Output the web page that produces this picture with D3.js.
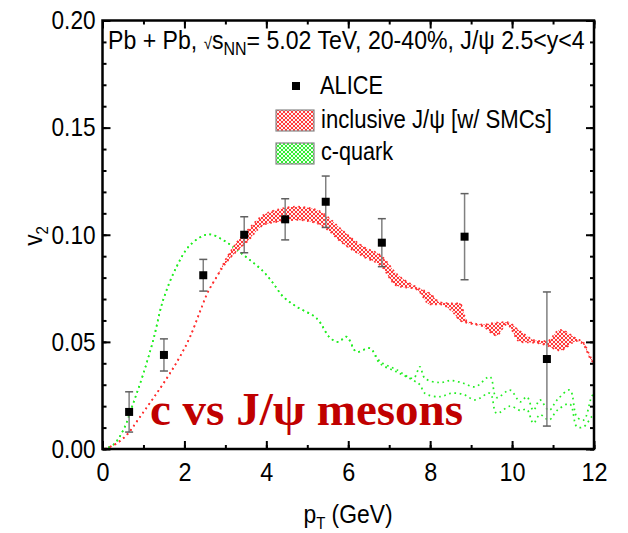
<!DOCTYPE html>
<html>
<head>
<meta charset="utf-8">
<script src="https://cdn.jsdelivr.net/npm/d3@7"></script>
<style>
  html, body { margin: 0; padding: 0; background: #fff; }
  svg { display: block; }
  .lab { font-family: "Liberation Sans", Arial, sans-serif; fill: #000; }
</style>
</head>
<body>
<svg id="chart" width="628" height="533"></svg>
<script>
// ALICE measurement: pT (GeV), v2, symmetric uncertainty
const alicePt  = [0.65, 1.50, 2.46, 3.46, 4.46, 5.45, 6.82, 8.84, 10.85];
const aliceV2  = [0.0173, 0.0439, 0.0811, 0.1000, 0.1072, 0.1154, 0.0963, 0.0991, 0.0420];
const aliceErr = [0.0094, 0.0075, 0.0074, 0.0084, 0.0096, 0.0120, 0.0112, 0.0201, 0.0313];

// inclusive J/psi with SMCs: band lower / upper edges
const jpsiPt = [0.06, 0.35, 0.59, 0.92, 1.24, 1.57, 1.89, 2.14, 2.38, 2.54, 2.79, 3.03, 3.28, 3.52, 3.93, 4.25, 4.74, 5.23, 5.55, 5.76,
                6.37, 6.82, 7.18, 7.67, 8.00, 8.24, 8.55, 8.73, 8.89, 9.30, 9.62, 9.87, 10.20, 10.60, 10.85, 11.17, 11.58, 11.75, 11.90, 12.0];
const jpsiLo = [0.0000, 0.0027, 0.0065, 0.0151, 0.0237, 0.0330, 0.0431, 0.0524, 0.0641, 0.0719, 0.0804, 0.0872, 0.0924, 0.0966, 0.1046, 0.1060, 0.1069, 0.1054, 0.1015, 0.0977,
                0.0898, 0.0851, 0.0762, 0.0745, 0.0675, 0.0675, 0.0640, 0.0600, 0.0589, 0.0571, 0.0530, 0.0582, 0.0499, 0.0495, 0.0483, 0.0460, 0.0504, 0.0485, 0.0425, 0.0400];
const jpsiHi = [0.0000, 0.0027, 0.0065, 0.0151, 0.0237, 0.0330, 0.0431, 0.0524, 0.0641, 0.0719, 0.0804, 0.0892, 0.0964, 0.1016, 0.1092, 0.1116, 0.1131, 0.1116, 0.1075, 0.1037,
                0.0944, 0.0899, 0.0818, 0.0755, 0.0725, 0.0685, 0.0680, 0.0680, 0.0599, 0.0581, 0.0590, 0.0592, 0.0549, 0.0505, 0.0503, 0.0556, 0.0514, 0.0495, 0.0435, 0.0400];

// c-quark: band lower / upper edges
const cqPt = [0.02, 0.26, 0.51, 0.75, 1.00, 1.24, 1.48, 1.81, 2.14, 2.58, 2.95, 3.28, 3.60, 3.93, 4.17, 4.41, 4.74, 5.23, 5.55, 5.76, 5.96,
              6.20, 6.53, 6.77, 7.18, 7.59, 7.75, 7.87, 8.24, 8.50, 8.81, 9.10, 9.46, 9.62, 9.95, 10.20, 10.36, 10.52, 10.68, 10.90, 11.10, 11.41, 11.58, 11.75, 11.94, 12.0];
const cqLo = [0.0000, 0.0019, 0.0089, 0.0213, 0.0353, 0.0509, 0.0695, 0.0851, 0.0952, 0.1002, 0.0975, 0.0929, 0.0882, 0.0828, 0.0773, 0.0711, 0.0664, 0.0610, 0.0520, 0.0500, 0.0524,
              0.0454, 0.0470, 0.0400, 0.0360, 0.0320, 0.0300, 0.0260, 0.0244, 0.0260, 0.0255, 0.0229, 0.0260, 0.0167, 0.0200, 0.0180, 0.0185, 0.0120, 0.0160, 0.0135, 0.0180, 0.0210, 0.0104, 0.0104, 0.0150, 0.0160];
const cqHi = [0.0000, 0.0019, 0.0089, 0.0213, 0.0353, 0.0509, 0.0695, 0.0851, 0.0952, 0.1002, 0.0975, 0.0929, 0.0882, 0.0828, 0.0773, 0.0711, 0.0664, 0.0610, 0.0520, 0.0500, 0.0524,
              0.0454, 0.0470, 0.0410, 0.0370, 0.0330, 0.0384, 0.0330, 0.0310, 0.0320, 0.0307, 0.0290, 0.0337, 0.0240, 0.0275, 0.0220, 0.0244, 0.0180, 0.0229, 0.0180, 0.0229, 0.0275, 0.0150, 0.0135, 0.0244, 0.0260];

const xTicks = [0, 2, 4, 6, 8, 10, 12];
const yTicks = [0.00, 0.05, 0.10, 0.15, 0.20];

const svg = d3.select("#chart");
const L = 102.5, R = 594, T = 20.5, B = 449;
const x = d3.scaleLinear().domain([0, 12]).range([L, R]);
const y = d3.scaleLinear().domain([0, 0.2]).range([B, T]);

// hatch patterns
const defs = svg.append("defs");
function hatch(id, bg, fg) {
  const p = defs.append("pattern").attr("id", id).attr("patternUnits", "userSpaceOnUse")
    .attr("width", 4).attr("height", 4);
  p.append("rect").attr("width", 4).attr("height", 4).attr("fill", bg);
  p.append("path").attr("d", "M0,0L4,4M4,0L0,4").attr("stroke", fg).attr("stroke-width", 1);
}
hatch("hatchRed", "#fff0f0", "#ff3b3b");
hatch("hatchGreen", "#f0fff0", "#33ee33");

svg.append("clipPath").attr("id", "clip").append("rect")
  .attr("x", L).attr("y", T).attr("width", R - L).attr("height", B - T);
const g = svg.append("g").attr("clip-path", "url(#clip)");

function drawBand(pt, lo, hi, pat, col, curve) {
  const idx = d3.range(pt.length);
  if (pat) {
    const area = d3.area().x(i => x(pt[i])).y0(i => y(lo[i])).y1(i => y(hi[i])).curve(curve);
    g.append("path").attr("d", area(idx)).attr("fill", `url(#${pat})`).attr("stroke", "none");
  }
  [lo, hi].forEach(arr => {
    const line = d3.line().x(i => x(pt[i])).y(i => y(arr[i])).curve(curve);
    g.append("path").attr("d", line(idx)).attr("fill", "none").attr("stroke", col)
      .attr("stroke-width", 1.7).attr("stroke-dasharray", "1.7,3.6");
  });
}
drawBand(cqPt, cqLo, cqHi, null, "#22ee22", d3.curveCatmullRom);
drawBand(jpsiPt, jpsiLo, jpsiHi, "hatchRed", "#ff3030", d3.curveMonotoneX);

// horizontally condensed text, placed at (px, py)
function narrowText(parent, px, py, sx, size) {
  return parent.append("g").attr("transform", `translate(${px},${py}) scale(${sx},1)`)
    .append("text").attr("class", "lab").attr("font-size", size);
}

// label inside the frame
svg.append("text").attr("x", 150).attr("y", 425)
  .attr("font-family", "'Liberation Serif', 'Times New Roman', serif").attr("font-weight", "bold")
  .attr("font-size", 47).attr("fill", "#c00000").text("c vs J/ψ mesons");

// ALICE points with error bars
const pts = svg.append("g");
alicePt.forEach((p, i) => {
  const cx = x(p), y1 = y(aliceV2[i] + aliceErr[i]), y0 = y(aliceV2[i] - aliceErr[i]);
  pts.append("line").attr("x1", cx).attr("x2", cx).attr("y1", y1).attr("y2", y0).attr("stroke", "#808080").attr("stroke-width", 1.5);
  [y1, y0].forEach(yy => pts.append("line").attr("x1", cx - 4).attr("x2", cx + 4).attr("y1", yy).attr("y2", yy)
    .attr("stroke", "#606060").attr("stroke-width", 1.5));
  pts.append("rect").attr("x", cx - 4).attr("y", y(aliceV2[i]) - 4).attr("width", 8).attr("height", 8).attr("fill", "#000");
});

// axes: ticks point inward on all four sides
const fs = 26;
function styleAxis(sx) {
  return sel => {
    sel.select(".domain").remove();
    sel.selectAll(".tick line").attr("stroke", "#000").attr("stroke-width", 2);
    sel.selectAll("text").attr("class", "lab").attr("font-size", fs).attr("fill", "#000")
      .attr("transform", `scale(${sx},1)`);
  };
}
const minorX = d3.range(0, 12.01, 1), minorY = d3.range(0, 0.2001, 0.01);
svg.append("g").attr("transform", `translate(0,${B})`)
  .call(d3.axisBottom(x).tickValues(xTicks).tickSize(-8).tickPadding(14).tickFormat(d3.format("d"))).call(styleAxis(0.9));
svg.append("g").attr("transform", `translate(0,${B})`)
  .call(d3.axisBottom(x).tickValues(minorX).tickSize(-4).tickFormat("")).call(styleAxis(1));
svg.append("g").attr("transform", `translate(0,${T})`)
  .call(d3.axisTop(x).tickValues(xTicks).tickSize(-8).tickFormat("")).call(styleAxis(1));
svg.append("g").attr("transform", `translate(0,${T})`)
  .call(d3.axisTop(x).tickValues(minorX).tickSize(-4).tickFormat("")).call(styleAxis(1));
svg.append("g").attr("transform", `translate(${L},0)`)
  .call(d3.axisLeft(y).tickValues(yTicks).tickSize(-8).tickPadding(8).tickFormat(d3.format(".2f"))).call(styleAxis(0.87));
svg.append("g").attr("transform", `translate(${L},0)`)
  .call(d3.axisLeft(y).tickValues(minorY).tickSize(-4).tickFormat("")).call(styleAxis(1));
svg.append("g").attr("transform", `translate(${R},0)`)
  .call(d3.axisRight(y).tickValues(yTicks).tickSize(-8).tickFormat("")).call(styleAxis(1));
svg.append("g").attr("transform", `translate(${R},0)`)
  .call(d3.axisRight(y).tickValues(minorY).tickSize(-4).tickFormat("")).call(styleAxis(1));

svg.append("rect").attr("x", L).attr("y", T).attr("width", R - L).attr("height", B - T)
  .attr("fill", "none").attr("stroke", "#000").attr("stroke-width", 2.5);

// axis titles
const xt = narrowText(svg, 348, 523, 0.88, fs).attr("text-anchor", "middle");
xt.append("tspan").text("p");
xt.append("tspan").attr("font-size", 17).attr("dy", 6).text("T");
xt.append("tspan").attr("dy", -6).text(" (GeV)");
const yt = svg.append("g").attr("transform", "translate(42,236) rotate(-90) scale(0.88,1)")
  .append("text").attr("class", "lab").attr("font-size", fs).attr("text-anchor", "middle");
yt.append("tspan").text("v");
yt.append("tspan").attr("font-size", 17).attr("dy", 6).text("2");

// title line, condensed to span the frame
const tt = narrowText(svg, 108, 49, 1, fs);
tt.append("tspan").text("Pb + Pb, ");
tt.append("tspan").attr("font-size", 17).text("√");
tt.append("tspan").text("s");
tt.append("tspan").attr("font-size", 18).attr("dy", 6).text("NN");
tt.append("tspan").attr("dy", -6).text("= 5.02 TeV, 20-40%, J/ψ 2.5<y<4");
function fitWidth(textSel, w) {
  const len = textSel.node().getComputedTextLength();
  const p = d3.select(textSel.node().parentNode);
  p.attr("transform", p.attr("transform").replace(/scale\([^)]*\)/, `scale(${w / len},1)`));
}
fitWidth(tt, 477);

// legend
const lg = svg.append("g");
lg.append("rect").attr("x", 292).attr("y", 82).attr("width", 8).attr("height", 8).attr("fill", "#000");
const l1 = narrowText(lg, 320, 94, 1, fs).text("ALICE");
fitWidth(l1, 63);
lg.append("rect").attr("x", 276).attr("y", 110).attr("width", 38).attr("height", 21)
  .attr("fill", "url(#hatchRed)").attr("stroke", "#888").attr("stroke-width", 1.2);
const l2 = narrowText(lg, 321, 128, 1, fs).text("inclusive J/ψ [w/ SMCs]");
fitWidth(l2, 231);
lg.append("rect").attr("x", 276).attr("y", 143).attr("width", 38).attr("height", 21)
  .attr("fill", "url(#hatchGreen)").attr("stroke", "#888").attr("stroke-width", 1.2);
const l3 = narrowText(lg, 321, 160, 1, fs).text("c-quark");
fitWidth(l3, 72);
</script>
</body>
</html>
